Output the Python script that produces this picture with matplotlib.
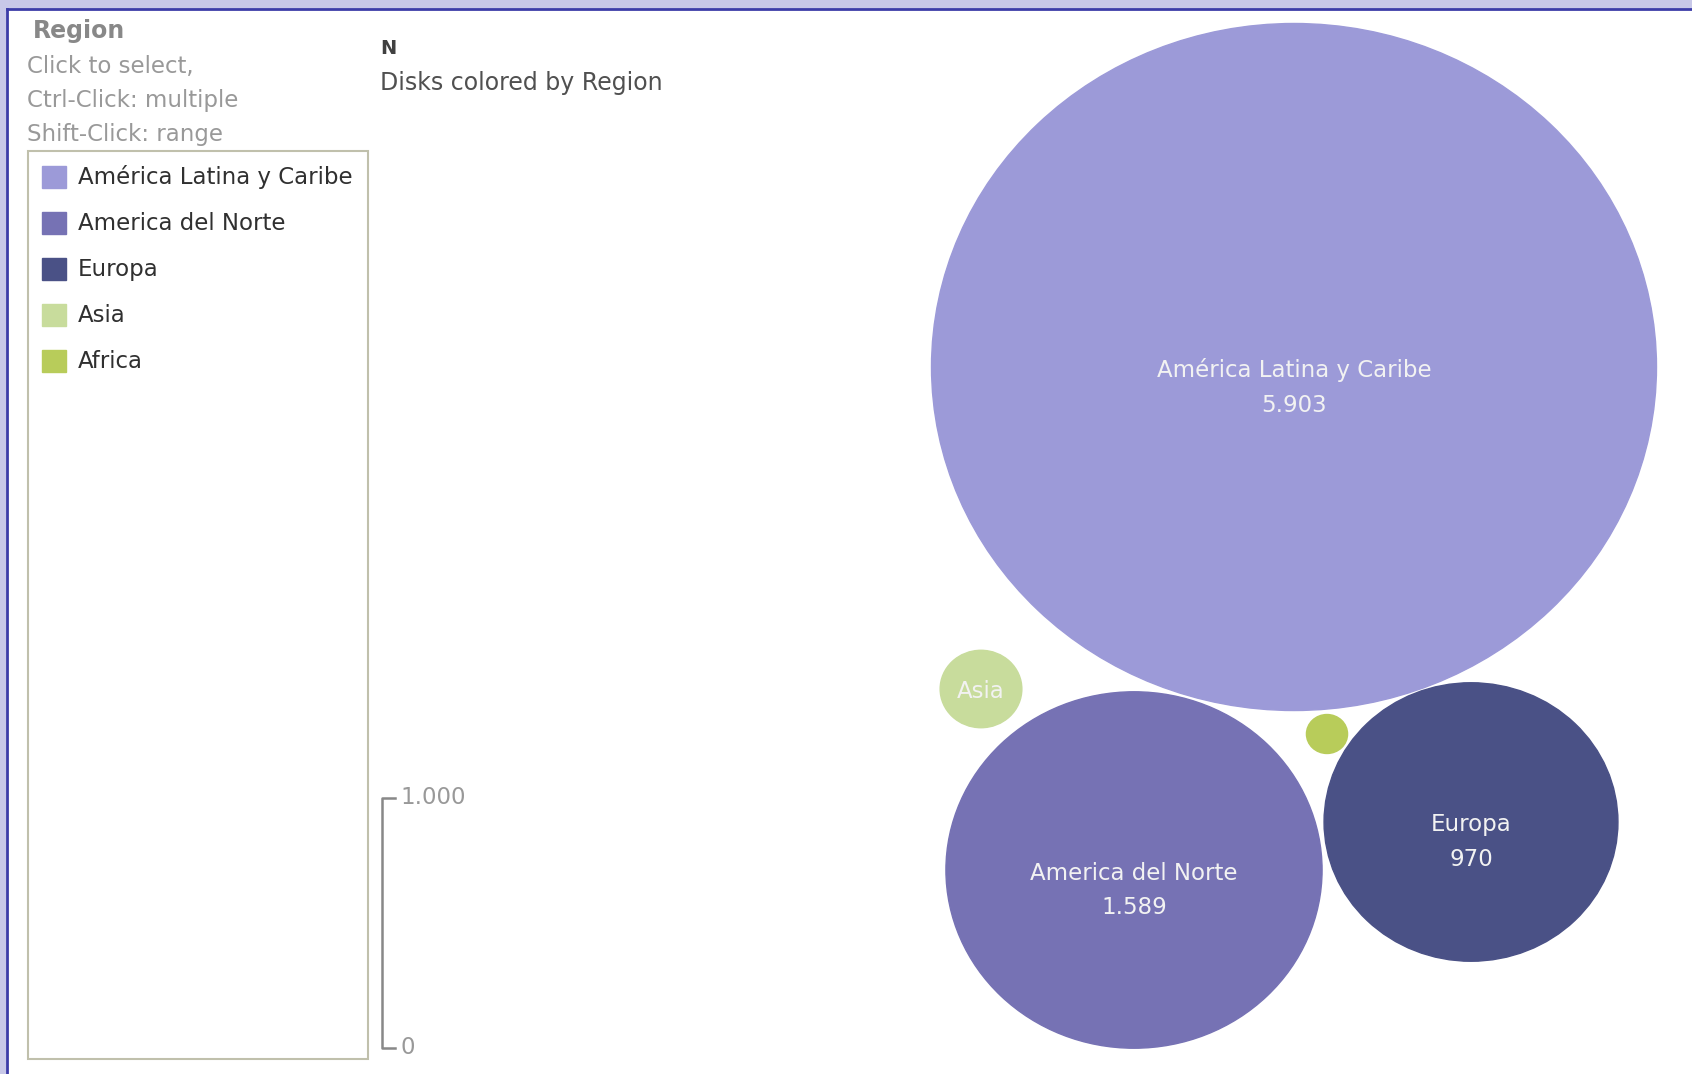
import matplotlib.pyplot as plt
from matplotlib.patches import Ellipse, Rectangle
import numpy as np

regions = ["América Latina y Caribe", "America del Norte", "Europa", "Asia", "Africa"]
n_values = [5903, 1589, 970, 75, 19]
colors = ["#9c9ad8", "#7672b4", "#4a5186", "#c8dc9c", "#b8cc5a"]
value_labels = ["5.903", "1.589", "970", "", ""]
show_name = [True, True, True, True, False]

# disk layout (pixel coords of the original tool), radius ~ sqrt(N)
centers = [(1294, 367), (1134, 870), (1471, 822), (981, 689), (1327, 734)]
kx, ky = 4.718, 4.471

fig = plt.figure(figsize=(16.92, 10.74), dpi=100)
ax = fig.add_axes([0, 0, 1, 1])
ax.set_xlim(0, 1692)
ax.set_ylim(1074, 0)
ax.axis("off")

# window frame
ax.add_patch(Rectangle((0, 0), 1692, 1074, color="#c8c8e8", zorder=0))
ax.add_patch(Rectangle((7, 9), 1692, 1074, color="white", zorder=0))
ax.plot([7, 1692], [9, 9], color="#3c3ca8", lw=2, zorder=1)
ax.plot([7, 7], [9, 1074], color="#3c3ca8", lw=2, zorder=1)

fs = 16.5
ax.text(33, 31, "Region", fontsize=17, fontweight="bold", color="#888888", va="center")
ax.text(27, 66, "Click to select,", fontsize=fs, color="#999999", va="center")
ax.text(27, 100, "Ctrl-Click: multiple", fontsize=fs, color="#999999", va="center")
ax.text(27, 135, "Shift-Click: range", fontsize=fs, color="#999999", va="center")

# legend box
ax.add_patch(Rectangle((28, 151), 340, 908, facecolor="white", edgecolor="#c0c0ac", lw=1.5, zorder=2))
for i, (name, c) in enumerate(zip(regions, colors)):
    y = 177 + i * 46.1
    ax.add_patch(Rectangle((42, y - 11), 24, 22, color=c, zorder=3))
    ax.text(78, y, name, fontsize=fs, color="#303030", va="center", zorder=3)

ax.text(380, 49, "N", fontsize=14, fontweight="bold", color="#404040", va="center")
ax.text(380, 83, "Disks colored by Region", fontsize=17, color="#505050", va="center")

# size scale
ax.plot([395, 382, 382, 395], [798, 798, 1048, 1048], color="#888888", lw=1.8)
ax.text(400, 797, "1.000", fontsize=fs, color="#999999", va="center")
ax.text(401, 1047, "0", fontsize=fs, color="#999999", va="center")

# disks
for i in range(len(regions)):
    r = np.sqrt(n_values[i])
    cx, cy = centers[i]
    ax.add_patch(Ellipse((cx, cy), 2 * kx * r, 2 * ky * r, color=colors[i], zorder=4))
    if show_name[i]:
        ax.text(cx, cy + 3, regions[i], fontsize=fs, color="#f2f2f2", ha="center", va="center", zorder=5)
    if value_labels[i]:
        ax.text(cx, cy + 38, value_labels[i], fontsize=fs, color="#f2f2f2", ha="center", va="center", zorder=5)

fig.savefig("out.png", dpi=100)
